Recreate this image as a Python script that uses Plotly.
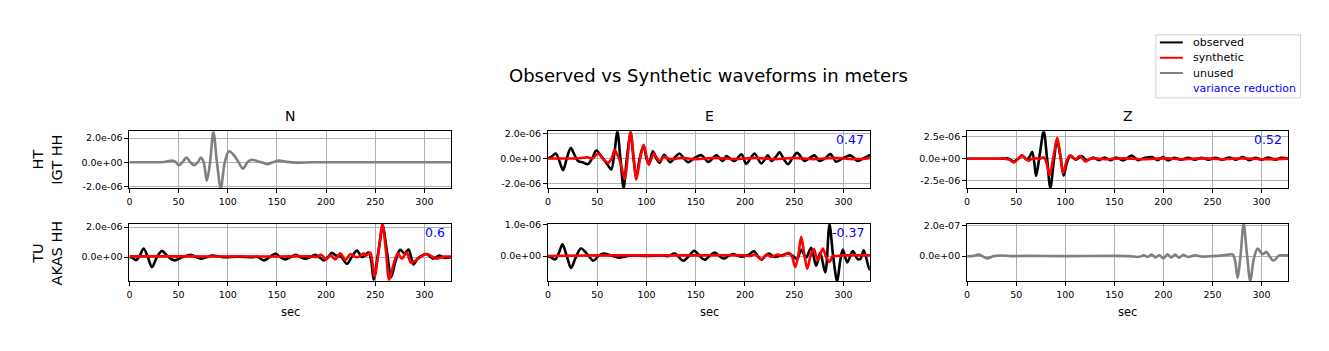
import numpy as np
import plotly.graph_objects as go
from plotly.subplots import make_subplots

W, H = 1329, 351

# ---------------- data ----------------
# values of row 1 and row 2 (N, E) are in units of 1e-6 m ; row 2 Z in 1e-7 m
stations = ["HT<br>IGT HH", "TU<br>AKAS HH"]
components = ["N", "E", "Z"]
x_ticks = [0, 50, 100, 150, 200, 250, 300]
legend_names = ["observed", "synthetic", "unused", "variance reduction"]

# HT IGT HH - N (unused)
ht_n_unused_t = [0, 20, 35, 44, 47.5, 50.2, 54, 58, 62, 65.9, 69.5, 72.6, 75.5, 78.7, 82, 85.4, 89, 92.9, 97,
                 101.3, 106.4, 111, 115.5, 120, 124.3, 131.8, 136, 140.2, 146, 152, 160, 170, 185, 220, 260, 327]
ht_n_unused_v = [0, 0, 0.02, 0.13, 0, -0.27, 0, 0.38, 0, -0.25, 0, 0.38, 0, -1.53, 0, 2.5, 0, -2.15, 0,
                 0.9, 0.57, 0, -0.52, 0, 0.21, 0.05, -0.05, -0.16, 0, 0.13, 0.03, -0.03, 0, 0, 0, 0]

# HT IGT HH - E
ht_e_obs_t = [0, 3.5, 7.8, 11.5, 15.2, 19, 23, 26.5, 30.4, 35, 40.5, 45, 49, 53, 56.7, 60.5, 64.2, 67.5, 70.3,
              73.5, 76.7, 80, 83.8, 86.8, 89.6, 93, 97, 100, 102.4, 106.4, 110, 113.2, 118, 124, 129, 133.5,
              138, 142.3, 149, 155.8, 162.6, 167, 171, 177.7, 181, 185, 189.5, 196.3, 201.4, 205.5, 209.8,
              216.6, 223.3, 226.7, 231, 235.1, 239, 243.6, 248, 253, 260.5, 265, 270.6, 275.6, 281, 286.8,
              292.5, 300, 307, 314.6, 320, 327]
ht_e_obs_v = [0, 0.15, 0.4, -0.2, -0.94, 0, 0.85, 0.35, -0.2, -0.3, -0.45, 0.05, 0.64, 0.3, -0.1, -0.5, -0.88,
              0.5, 2.2, 0, -2.35, 0, 2.0, 0, -1.5, 0, 1.0, 0, -0.45, 0.58, 0, -0.35, 0.3, -0.3, 0.1, 0.4,
              0, -0.3, 0.05, 0.27, -0.27, 0, 0.25, -0.2, 0.2, 0, -0.2, 0.33, -0.43, 0, 0.4,
              -0.4, 0.25, -0.2, 0.1, 0.5, 0, -0.45, 0, 0.45, -0.2, 0, 0.25, -0.2, 0, 0.35,
              -0.25, 0.05, 0.25, -0.2, 0, 0.3]
ht_e_syn_t = [0, 20, 32, 40, 45, 50.7, 55.5, 61, 64.5, 67.6, 71, 74, 78, 81, 83.8, 86.8, 89.6, 93.5, 97, 100,
              102.4, 105, 107.6, 110.5, 113.3, 118, 122, 128, 135, 150, 170, 190, 210, 230, 250, 270, 290,
              310, 327]
ht_e_syn_v = [0, 0, 0.02, 0.1, 0, 0.38, 0, -0.35, 0, 0.65, 0.2, -0.5, -1.65, 0.3, 2.18, 0.2, -1.68, 0, 1.1, 0.2,
              -0.5, 0, 0.4, 0.05, -0.2, 0.15, 0, -0.05, 0.05, -0.05, 0.05, -0.05, 0.05, -0.05, 0.05, -0.05,
              0.05, -0.05, 0.02]

# HT IGT HH - Z
ht_z_obs_t = [0, 30, 38, 41, 44, 47.6, 52, 56.1, 61, 63.5, 66.3, 68.5, 70.3, 74, 78, 81.5, 84.8, 88.3, 91.6,
              95, 98.3, 101.5, 105, 111, 116.7, 122, 128.5, 134, 140, 146, 152, 159, 167.6, 174, 181, 188,
              194, 199.7, 204.7, 211, 218, 225, 232, 239, 246, 253, 260, 267, 274, 281, 287, 294, 300, 307,
              314, 320, 327]
ht_z_obs_v = [0, 0, 0.02, 0.05, -0.1, -0.3, 0, 0.35, -0.1, 0.2, 0.8, -0.5, -1.94, 0.5, 3.1, 0, -3.3, -0.3, 2.1,
              0.3, -1.9, -0.5, 0.3, -0.1, 0.3, -0.2, 0.15, -0.15, 0.15, -0.15, 0.15, -0.2, 0.36, -0.15, 0.1,
              0.2, -0.15, 0.2, -0.2, 0.1, -0.1, 0.1, -0.1, 0.1, -0.1, 0.1, -0.1, 0.15, -0.1, 0.2, -0.15,
              0.1, -0.1, 0.15, -0.1, 0.1, 0]
ht_z_syn_t = [0, 30, 38, 43, 47.6, 52, 56, 59.5, 62.5, 66, 70, 74, 78, 81, 84, 88, 91.8, 95, 97.9, 101.5, 105,
              110, 114.5, 117, 120.3, 125, 130, 140, 160, 180, 200, 220, 240, 260, 280, 300, 327]
ht_z_syn_v = [0, 0, 0.02, -0.1, -0.4, 0, 0.38, 0, -0.22, 0, 0.05, 0, 0.15, -0.5, -1.85, 0.3, 2.35, 0.3, -1.6,
              -0.2, 0.4, -0.05, 0.3, 0.1, -0.3, 0, 0.05, -0.05, 0.05, -0.05, 0.05, -0.05, 0.05, -0.05, 0.05,
              -0.05, 0.02]

# TU AKAS HH - N
tu_n_obs_t = [0, 3, 6.7, 10.5, 14.5, 18.7, 22.9, 28, 33, 39, 45.6, 54, 62.4, 68, 73.6, 79, 84, 95, 110, 125,
              130, 136.8, 142.5, 148.6, 153.5, 158.7, 164, 169, 174, 179, 184, 189, 193, 197.6, 202, 206, 210,
              215, 221.2, 226, 231.4, 236.5, 243.2, 246, 248.3, 253, 257.7, 262, 266.2, 270.5, 275.3, 279.8,
              283.8, 286.5, 288.8, 293, 296, 302, 309, 315, 320, 327]
tu_n_obs_v = [0, -0.05, -0.2, 0.1, 0.57, 0, -0.67, 0, 0.41, 0.05, -0.22, 0, 0.15, 0, -0.1, 0, 0.1, 0, 0.03, 0,
              0.02, -0.22, 0, 0.22, 0, -0.15, 0, 0.15, 0, -0.1, 0, 0.15, 0, -0.22, 0, 0.28, 0.1,
              0.05, -0.45, 0, 0.43, 0, 0.3, -0.3, -1.5, 0.3, 2.0, 0.3, -1.34, -0.3, 0.48, 0.25,
              0.5, 0, -0.5, -0.1, 0.05, 0.2, -0.1, 0.1, -0.05, 0]
tu_n_syn_t = [0, 30, 60, 100, 150, 185, 190, 195, 200, 204.5, 209.4, 214.5, 219.6, 224.7, 229.7, 234, 238.1,
              241, 244.8, 247, 249.3, 253.5, 257.4, 261, 264.1, 268.5, 272.9, 277, 282, 286.4, 293.8, 302,
              312.3, 320, 327]
tu_n_syn_v = [0.05, 0.05, 0.05, 0.04, 0.04, 0.05, 0, 0.15, -0.15, 0.1, -0.15, 0.25, -0.2, 0.2, 0, 0.05, 0.25,
              0.1, 0.3, -0.3, -1.3, 0.4, 2.2, 0.3, -1.5, -0.5, 0.25, -0.1, 0.3, -0.38, -0.1, 0.2,
              -0.1, 0.03, 0.03]

# TU AKAS HH - E
tu_e_obs_t = [0, 3.5, 7.1, 11, 14.6, 19, 23.3, 28, 33.4, 40, 46, 51, 56.1, 64, 72, 85, 100, 115, 122, 128.7,
              137.2, 143, 148.4, 154, 159, 164, 169, 174, 178.6, 183, 187.7, 196, 203, 209.2, 213, 216.6,
              220.5, 224.4, 230, 237, 244.2, 248.7, 253, 257, 262, 267.2, 272.3, 276.4, 281.5, 285.8, 289.5,
              293.6, 296.5, 299.4, 303.8, 309.5, 314.5, 317.5, 320.6, 326.3, 327]
tu_e_obs_v = [0, -0.05, -0.11, 0.1, 0.37, 0, -0.38, -0.05, 0.24, 0.05, -0.15, 0, 0.08, 0.02, -0.05, 0.02, 0,
              0.02, 0, 0.08, -0.15, 0, 0.17, 0, -0.12, 0, 0.11, 0, -0.08, 0, 0.06, -0.02, 0.03, 0.15, 0,
              -0.12, 0, 0.08, -0.03, 0.02, 0.08, 0, -0.1, 0.2, -0.05, 0.26, -0.31, 0.1, -0.52, 1.0, 0,
              -0.8, -0.2, 0.21, -0.2, 0.16, -0.1, -0.08, 0.18, -0.42, -0.4]
tu_e_syn_t = [0, 50, 100, 150, 200, 205, 210, 216.6, 222, 227, 233, 238, 244, 247.5, 251, 254, 257.1, 260,
              263.2, 266.5, 270, 274, 279, 282, 285.8, 289, 292.6, 300, 327]
tu_e_syn_v = [0, 0.02, 0.02, 0.02, 0.02, 0, 0.05, -0.1, 0.05, -0.03, 0.05, 0, 0.1, 0, -0.35, 0, 0.61, 0.1,
              -0.4, 0, 0.22, -0.14, 0.24, 0, -0.19, 0, 0, 0.02, 0.02]

# TU AKAS HH - Z (unused), units 1e-7 m
tu_z_unused_t = [0, 5, 12.5, 20, 27, 35, 45, 60, 100, 150, 165, 175, 180, 184, 188, 192, 196, 200, 204, 208,
                 212, 216, 220, 225, 232, 240, 250, 260, 266, 270.8, 273, 275.6, 278.5, 281.7, 285, 288.5,
                 292, 295.9, 301, 305, 308, 312.1, 318, 322, 327]
tu_z_unused_v = [0, 0, 0.1, -0.15, 0, 0.04, 0, 0.02, 0, 0.02, 0, -0.05, 0.05, -0.05, 0.1, -0.08, 0.06, -0.15,
                 0.12, -0.08, 0.1, -0.1, 0.08, -0.05, 0.05, -0.03, 0, 0.05, 0.1, 0.1, -0.3, -1.44, 0, 2.13,
                 0.2, -1.66, -0.2, 0.5, 0.13, 0.28, 0, -0.3, 0.05, 0.05, 0.05]

variance_reduction = {(1, 2): "0.47", (1, 3): "0.52", (2, 1): "0.6", (2, 2): "-0.37"}

# y-axis settings per panel: range, tick values, tick labels
y_ranges = {(1, 1): [-2.16e-6, 2.55e-6], (1, 2): [-2.4e-6, 2.18e-6], (1, 3): [-3.34e-6, 3.09e-6],
            (2, 1): [-1.61e-6, 2.21e-6], (2, 2): [-0.80e-6, 1.02e-6], (2, 3): [-1.66e-7, 2.13e-7]}
y_tickvals = {(1, 1): [-2e-6, 0, 2e-6], (1, 2): [-2e-6, 0, 2e-6], (1, 3): [-2.5e-6, 0, 2.5e-6],
              (2, 1): [0, 2e-6], (2, 2): [0, 1e-6], (2, 3): [0, 2e-7]}
y_ticktext = {(1, 1): ["-2.0e-06", "0.0e+00", "2.0e-06"], (1, 2): ["-2.0e-06", "0.0e+00", "2.0e-06"],
              (1, 3): ["-2.5e-06", "0.0e+00", "2.5e-06"], (2, 1): ["0.0e+00", "2.0e-06"],
              (2, 2): ["0.0e+00", "1.0e-06"], (2, 3): ["0.0e+00", "2.0e-07"]}

# ---------------- figure ----------------
FONT = "DejaVu Sans"
BLACK, RED, GRAY, BLUE = "#000000", "#ff0000", "#808080", "#0000ff"

fig = make_subplots(rows=2, cols=3)


def add(t, v, unit, color, row, col):
    fig.add_trace(go.Scatter(x=t, y=np.array(v, dtype=float) * unit, mode="lines",
                             line=dict(color=color, width=2.6, shape="spline", smoothing=0.9),
                             showlegend=False, hoverinfo="skip"), row=row, col=col)


add(ht_n_unused_t, ht_n_unused_v, 1e-6, GRAY, 1, 1)
add(ht_e_obs_t, ht_e_obs_v, 1e-6, BLACK, 1, 2)
add(ht_e_syn_t, ht_e_syn_v, 1e-6, RED, 1, 2)
add(ht_z_obs_t, ht_z_obs_v, 1e-6, BLACK, 1, 3)
add(ht_z_syn_t, ht_z_syn_v, 1e-6, RED, 1, 3)
add(tu_n_obs_t, tu_n_obs_v, 1e-6, BLACK, 2, 1)
add(tu_n_syn_t, tu_n_syn_v, 1e-6, RED, 2, 1)
add(tu_e_obs_t, tu_e_obs_v, 1e-6, BLACK, 2, 2)
add(tu_e_syn_t, tu_e_syn_v, 1e-6, RED, 2, 2)
add(tu_z_unused_t, tu_z_unused_v, 1e-7, GRAY, 2, 3)

col_px = [(126.7, 449.0), (546.3, 869.0), (966.3, 1288.0)]
row_px = [(129.3, 187.7), (224.0, 282.7)]

annotations = []
shapes = []
for r in range(2):
    for c in range(3):
        idx = r * 3 + c + 1
        xs = "xaxis" if idx == 1 else f"xaxis{idx}"
        ys = "yaxis" if idx == 1 else f"yaxis{idx}"
        x0, x1 = col_px[c]
        ytop, ybot = row_px[r]
        fig.layout[xs].update(domain=[x0 / W, x1 / W], range=[0, 327], tickvals=x_ticks,
                              ticks="outside", ticklen=4, tickcolor="black", showline=True, mirror=True,
                              linecolor="black", linewidth=1, showgrid=True, gridcolor="#b0b0b0",
                              gridwidth=0.8, zeroline=False, tickfont=dict(family=FONT, size=9.5, color="black"))
        key = (r + 1, c + 1)
        fig.layout[ys].update(domain=[1 - ybot / H, 1 - ytop / H], range=y_ranges[key],
                              tickvals=y_tickvals[key], ticktext=y_ticktext[key],
                              ticks="outside", ticklen=4, tickcolor="black", showline=True, mirror=True,
                              linecolor="black", linewidth=1, showgrid=True, gridcolor="#b0b0b0",
                              gridwidth=0.8, zeroline=False, tickfont=dict(family=FONT, size=9.5, color="black"))
        if key in variance_reduction:
            annotations.append(dict(text=variance_reduction[key], x=(x1 - 4) / W, y=1 - (ytop + 8.5) / H,
                                    xref="paper", yref="paper", xanchor="right", yanchor="middle",
                                    showarrow=False, font=dict(family=FONT, size=12.5, color=BLUE)))
        if r == 0:
            annotations.append(dict(text=components[c], x=(x0 + x1) / 2 / W, y=1 - (ytop - 5) / H,
                                    xref="paper", yref="paper", xanchor="center", yanchor="bottom",
                                    showarrow=False, font=dict(family=FONT, size=14, color="black")))
        else:
            annotations.append(dict(text="sec", x=(x0 + x1) / 2 / W, y=1 - 314 / H,
                                    xref="paper", yref="paper", xanchor="center", yanchor="middle",
                                    showarrow=False, font=dict(family=FONT, size=11.5, color="black")))
    ytop, ybot = row_px[r]
    annotations.append(dict(text=stations[r], x=45 / W, y=1 - (ytop + ybot) / 2 / H, xref="paper", yref="paper",
                            xanchor="center", yanchor="middle", textangle=-90, showarrow=False, align="center",
                            font=dict(family=FONT, size=14.5, color="black")))

annotations.append(dict(text="Observed vs Synthetic waveforms in meters", x=707 / W, y=1 - 72 / H,
                        xref="paper", yref="paper", xanchor="center", yanchor="middle", showarrow=False,
                        font=dict(family=FONT, size=18, color="black")))

# legend box (matplotlib style)
shapes.append(dict(type="rect", xref="paper", yref="paper", x0=1155.5 / W, x1=1300.5 / W,
                   y0=1 - 95 / H, y1=1 - 30.5 / H, line=dict(color="#d0d0d0", width=1),
                   fillcolor="rgba(255,255,255,0.85)", layer="above"))
legend_colors = [BLACK, RED, GRAY, None]
legend_y = [38.3, 54.0, 69.6, 85.2]
for name, color, ly in zip(legend_names, legend_colors, legend_y):
    if color is not None:
        shapes.append(dict(type="line", xref="paper", yref="paper", x0=1159.5 / W, x1=1182.5 / W,
                           y0=1 - ly / H, y1=1 - ly / H, line=dict(color=color, width=2), layer="above"))
    annotations.append(dict(text=name, x=1190.5 / W, y=1 - ly / H, xref="paper", yref="paper",
                            xanchor="left", yanchor="middle", showarrow=False,
                            font=dict(family=FONT, size=11, color=BLUE if color is None else "black")))

fig.update_layout(width=W, height=H, margin=dict(l=0, r=0, t=0, b=0), paper_bgcolor="white",
                  plot_bgcolor="white", annotations=annotations, shapes=shapes, font=dict(family=FONT),
                  showlegend=False)

fig.write_html("out.html")
